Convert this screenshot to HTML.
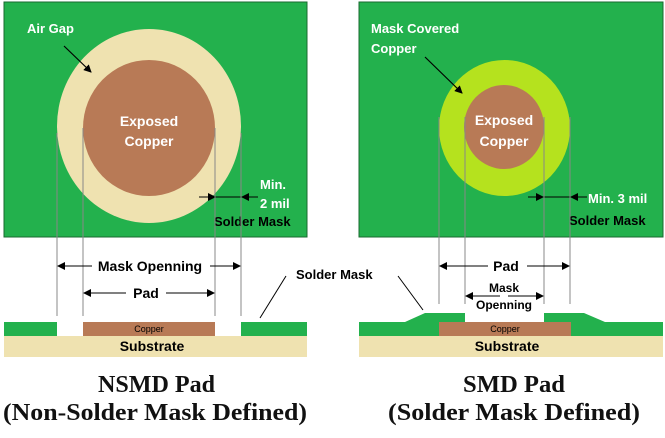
<!DOCTYPE html>
<html><head><meta charset="utf-8"><style>body{margin:0;background:#fff}svg{display:block}</style></head><body>
<svg width="665" height="438" viewBox="0 0 665 438" xmlns="http://www.w3.org/2000/svg" font-family="Liberation Sans, sans-serif" font-weight="bold">
<defs><marker id="a" markerWidth="8" markerHeight="8" refX="7" refY="4" orient="auto" markerUnits="userSpaceOnUse"><path d="M0,0L8,4L0,8z" fill="#000"/></marker></defs>
<!-- LEFT -->
<rect x="4" y="2" width="303" height="235" fill="#23b14d" stroke="#1a6a30" stroke-width="1"/>
<ellipse cx="149" cy="126" rx="92" ry="97" fill="#efe2b0"/>
<ellipse cx="149" cy="128" rx="66" ry="68" fill="#b87a56"/>
<text fill="#fff" font-size="13" x="27" y="33">Air Gap</text>
<line x1="64" y1="46" x2="91" y2="72" stroke="#000" stroke-width="1.2" marker-end="url(#a)"/>
<text fill="#fff" font-size="14" text-anchor="middle" x="149" y="126">Exposed</text>
<text fill="#fff" font-size="14" text-anchor="middle" x="149" y="146">Copper</text>
<line x1="199" y1="197" x2="215" y2="197" stroke="#000" marker-end="url(#a)"/>
<line x1="258" y1="197" x2="242" y2="197" stroke="#000" marker-end="url(#a)"/>
<line x1="215" y1="197" x2="242" y2="197" stroke="#000"/>
<text fill="#fff" font-size="13" x="260" y="189">Min.</text>
<text fill="#fff" font-size="13" x="260" y="208">2 mil</text>
<text fill="#000" font-size="13" x="214" y="226">Solder Mask</text>
<g stroke="#888" stroke-width="1"><line x1="57" y1="133" x2="57" y2="316"/><line x1="83" y1="128" x2="83" y2="316"/><line x1="215" y1="128" x2="215" y2="316"/><line x1="241" y1="133" x2="241" y2="316"/></g>
<line x1="92" y1="266" x2="58" y2="266" stroke="#000" marker-end="url(#a)"/>
<line x1="210" y1="266" x2="240" y2="266" stroke="#000" marker-end="url(#a)"/>
<text fill="#000" font-size="14" text-anchor="middle" x="150" y="271">Mask Openning</text>
<line x1="126" y1="293" x2="84" y2="293" stroke="#000" marker-end="url(#a)"/>
<line x1="166" y1="293" x2="214" y2="293" stroke="#000" marker-end="url(#a)"/>
<text fill="#000" font-size="14" text-anchor="middle" x="146" y="298">Pad</text>
<rect x="4" y="322" width="53" height="14" fill="#23b14d"/>
<rect x="241" y="322" width="66" height="14" fill="#23b14d"/>
<rect x="83" y="322" width="132" height="14" fill="#b87a56"/>
<text fill="#000" font-size="9" font-weight="normal" text-anchor="middle" x="149" y="332">Copper</text>
<rect x="4" y="336" width="303" height="21" fill="#efe2b0"/>
<text fill="#000" font-size="14" text-anchor="middle" x="152" y="351">Substrate</text>
<!-- Solder Mask label -->
<text fill="#000" font-size="13" x="296" y="279">Solder Mask</text>
<line x1="286" y1="276" x2="260" y2="318" stroke="#000"/>
<line x1="398" y1="276" x2="423" y2="310" stroke="#000"/>
<!-- RIGHT -->
<rect x="359" y="2" width="304" height="235" fill="#23b14d" stroke="#1a6a30" stroke-width="1"/>
<ellipse cx="504.5" cy="128" rx="65.5" ry="68" fill="#b5e21e"/>
<ellipse cx="504" cy="127" rx="40" ry="42" fill="#b87a56"/>
<text fill="#fff" font-size="13" x="371" y="33">Mask Covered</text>
<text fill="#fff" font-size="13" x="371" y="53">Copper</text>
<line x1="425" y1="57" x2="462" y2="93" stroke="#000" stroke-width="1.2" marker-end="url(#a)"/>
<text fill="#fff" font-size="14" text-anchor="middle" x="504" y="125">Exposed</text>
<text fill="#fff" font-size="14" text-anchor="middle" x="504" y="146">Copper</text>
<line x1="528" y1="197" x2="543" y2="197" stroke="#000" marker-end="url(#a)"/>
<line x1="587" y1="197" x2="571" y2="197" stroke="#000" marker-end="url(#a)"/>
<line x1="543" y1="197" x2="571" y2="197" stroke="#000"/>
<text fill="#fff" font-size="13" x="588" y="203">Min. 3 mil</text>
<text fill="#000" font-size="13" x="569" y="225">Solder Mask</text>
<g stroke="#888" stroke-width="1"><line x1="439" y1="117" x2="439" y2="304"/><line x1="465" y1="117" x2="465" y2="304"/><line x1="544" y1="117" x2="544" y2="304"/><line x1="570" y1="117" x2="570" y2="304"/></g>
<line x1="488" y1="266" x2="440" y2="266" stroke="#000" marker-end="url(#a)"/>
<line x1="527" y1="266" x2="569" y2="266" stroke="#000" marker-end="url(#a)"/>
<text fill="#000" font-size="14" text-anchor="middle" x="506" y="271">Pad</text>
<line x1="500" y1="296" x2="466" y2="296" stroke="#000" marker-end="url(#a)"/>
<line x1="508" y1="296" x2="543" y2="296" stroke="#000" marker-end="url(#a)"/>
<text fill="#000" font-size="12" text-anchor="middle" x="504" y="292">Mask</text>
<text fill="#000" font-size="12" text-anchor="middle" x="504" y="309">Openning</text>
<polygon points="359,322 405,322 425,313 465,313 465,322 544,322 544,313 584,313 605,322 663,322 663,336 359,336" fill="#23b14d"/>
<rect x="439" y="322" width="132" height="14" fill="#b87a56"/>
<text fill="#000" font-size="9" font-weight="normal" text-anchor="middle" x="505" y="332">Copper</text>
<rect x="359" y="336" width="304" height="21" fill="#efe2b0"/>
<text fill="#000" font-size="14" text-anchor="middle" x="507" y="351">Substrate</text>
<!-- Titles -->
<g font-family="Liberation Serif, serif" font-size="24" fill="#111">
<text x="98" y="392" textLength="117" lengthAdjust="spacingAndGlyphs">NSMD Pad</text>
<text x="3" y="420" textLength="304" lengthAdjust="spacingAndGlyphs">(Non-Solder Mask Defined)</text>
<text x="463" y="392" textLength="102" lengthAdjust="spacingAndGlyphs">SMD Pad</text>
<text x="388" y="420" textLength="252" lengthAdjust="spacingAndGlyphs">(Solder Mask Defined)</text>
</g>
</svg>
</body></html>
